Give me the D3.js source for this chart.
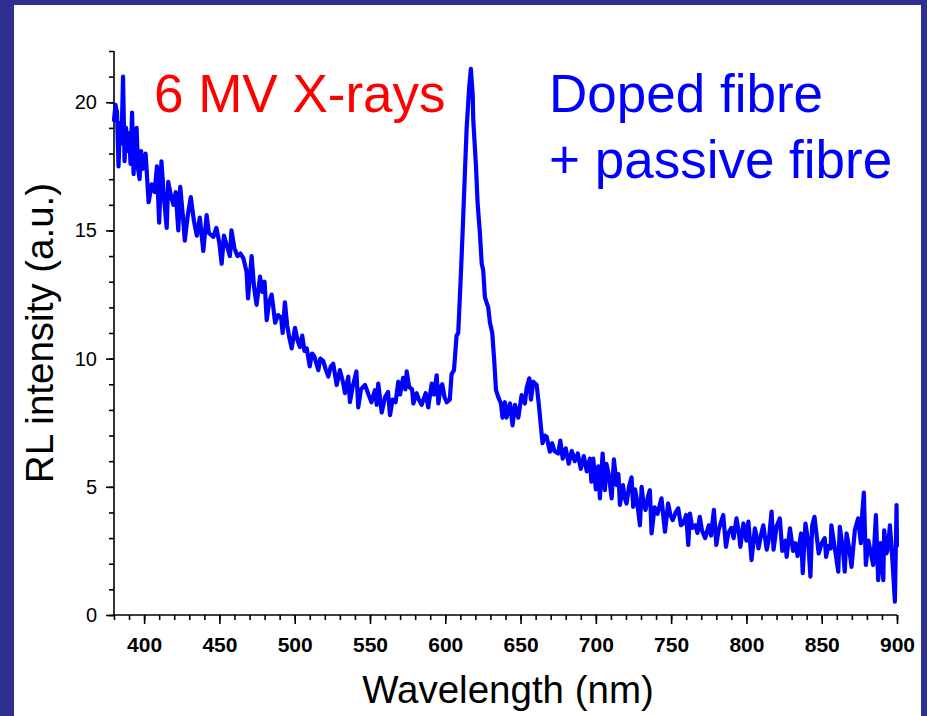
<!DOCTYPE html>
<html>
<head>
<meta charset="utf-8">
<script src="https://cdn.jsdelivr.net/npm/d3@7"></script>
<style>
  html, body { margin: 0; padding: 0; background: #2e3192; }
  svg { display: block; }
  text { font-family: "Liberation Sans", Arial, sans-serif; }
</style>
</head>
<body>
<svg id="chart" width="927" height="716"></svg>
<script>
// Radioluminescence spectrum: wavelength (nm) and intensity (a.u.)
const wavelengths = [
  380,381,382,383,384,385,386,387,388,389,390,391,392,393,394,395,396,397,398,399,
  401,403,405,407,408.5,410,411.5,413,415,416,418,419.5,421,422.7,424,426,427,429,431,433,
  435,437,439.3,441.5,443,446,448,450,451.5,453,455,457,458,460,462,464,466,468,469,471.4,
  473,474.7,477,478.5,480,481.4,483,484.7,486,487,489,491,492,493.5,495,496.5,498,500.2,502,503.5,
  505,506.5,508,510,511.5,513,515.7,517,519,520.5,522.3,524,525.6,527.9,530,532,533.4,535.6,536.7,538.5,
  541,542.2,544,546.7,549,551,553.3,554.5,555.5,557.8,560,562,563.3,565,567,568.8,570,572,573.5,574.4,
  576,578,578.8,581,582.5,584.3,587,588.7,591,592.5,594.3,595.4,597,598,599.5,601,603,604.2,605.8,607.5,
  608.6,610.2,611.5,613,614.2,615.9,617,618.2,618.6,620.4,621.5,623,624.2,625.2,626.3,628.5,629.7,631.2,632.5,633.7,
  635.2,637,638,639.6,640.7,643,644.7,646.3,648.5,650.7,652.9,654,655.8,656.9,658.4,660.7,662.4,663.5,664.6,666,
  667.3,669.5,671,672.5,675,676.4,678,680,682,684,686,688,690,692,694,696,697,698.3,700,701.6,
  702.7,704.5,706,707,708.5,710.5,712,713.8,715,716,718,719,720.4,722,723.7,724.8,726,727,729.3,730.4,
  731.5,733,734.5,735.9,737,739,741,742.5,743.6,745.9,748,749.5,751,753,754.7,756.5,758,760,761.4,762.5,
  764,766,767.5,769,770.5,772.6,775,776.5,778.4,780,781.5,783,784.6,786.4,788,790,791.5,793.4,795,796,
  798,800,801.3,803.4,805.6,807,808,810,811.2,813.5,815,816.7,818,820,822.2,823.8,826,826.7,828.9,831,
  832.5,834,836.3,837.4,839.2,841,842.5,843.7,845.2,848,850,852,852.9,854.5,856,856.4,859,861,862,864,
  865.3,866.5,868,869.8,872,874.2,876,877,878,879.3,881,882,884.2,886,887.5,889,890.9,891.5,893,894,
  895.3,897,898.6,899.7,900
];
const intensity = [
  19.3,19.9,19.6,17.5,19.2,18.4,21.0,17.7,19.0,18.1,18.8,17.6,19.6,17.2,18.4,19.0,17.4,17.0,18.1,17.4,
  18.0,16.1,16.8,16.5,17.5,15.3,17.7,16.4,15.1,16.9,16.3,16.0,16.5,15.0,16.7,15.4,14.6,15.6,16.3,15.4,
  14.8,15.5,14.2,15.6,14.9,14.75,15.1,14.5,13.7,14.8,14.4,14.0,15.0,14.3,14.0,14.1,13.9,13.4,12.35,14.0,
  12.8,12.1,13.2,12.6,13.0,11.5,12.2,12.5,11.9,11.4,11.7,11.6,11.0,12.2,11.3,10.8,10.4,11.2,10.7,10.45,
  10.9,10.3,10.4,9.7,10.2,10.1,9.55,10.0,9.9,9.6,9.3,9.7,9.8,8.97,9.55,9.1,8.65,9.3,8.3,8.9,
  9.5,8.1,8.8,8.97,8.6,8.3,8.77,8.2,9.03,7.9,8.5,8.7,7.8,8.4,8.3,9.1,8.6,9.25,8.8,9.5,
  8.9,8.8,8.25,8.65,8.4,8.2,8.65,8.1,9.03,8.6,9.35,8.25,8.9,9.0,8.5,8.3,8.4,9.4,9.55,10.9,
  11.0,13.06,14.9,17.2,19.0,20.6,21.3,20.3,19.3,17.5,16.05,14.9,13.7,13.45,12.4,12.0,11.4,11.0,9.94,8.77,
  8.5,8.25,7.7,8.3,7.7,8.25,7.4,8.2,7.7,8.58,8.25,8.84,9.23,8.4,9.1,8.97,8.06,7.35,6.7,7.0,
  6.95,6.37,6.7,6.4,6.3,6.8,6.1,6.5,5.9,6.4,6.0,6.3,5.7,6.2,5.6,6.1,5.2,6.1,4.9,5.8,
  4.55,6.3,4.87,5.9,5.5,4.55,6.07,5.07,5.5,4.29,5.07,4.6,4.35,5.0,5.37,4.22,4.9,4.6,3.5,5.0,
  4.4,4.1,4.6,4.87,3.18,4.2,3.95,4.3,4.55,3.25,4.35,3.9,3.7,4.0,4.16,3.5,3.57,3.9,2.73,3.96,
  3.4,3.5,3.2,3.83,3.3,3.0,3.5,3.1,4.1,2.73,3.3,3.6,3.9,2.66,3.2,3.4,3.0,3.77,3.2,2.66,
  3.57,2.9,3.64,2.14,3.38,3.0,2.6,3.2,3.5,2.55,3.0,4.03,2.55,3.45,3.77,2.5,2.9,2.27,3.38,2.5,
  2.8,2.3,3.18,1.63,3.57,2.9,1.5,3.5,3.83,2.4,2.8,3.0,2.27,2.7,2.6,3.5,2.5,1.69,3.44,2.6,
  1.69,3.18,2.7,1.88,3.3,3.77,2.8,4.03,4.77,1.95,2.9,2.6,1.95,3.9,1.36,2.8,1.36,3.3,2.4,2.6,
  3.5,2.1,0.52,4.29,2.7
];

const xMajorTicks = [400, 450, 500, 550, 600, 650, 700, 750, 800, 850, 900];
const yMajorTicks = [0, 5, 10, 15, 20];

const svg = d3.select("#chart");
const W = 927, H = 716;

// Dark frame with white panel
svg.append("rect").attr("width", W).attr("height", H).attr("fill", "#2e3192");
svg.append("rect").attr("x", 14).attr("y", 5).attr("width", 907).attr("height", H - 5).attr("fill", "#ffffff");

const x = d3.scaleLinear().domain([380, 900]).range([114, 897]);
const y = d3.scaleLinear().domain([0, 22]).range([615, 51]);

// Minor ticks (every 10 nm / every 1 unit)
const xMinor = d3.range(380, 901, 10);
const yMinor = d3.range(0, 23, 1);

const xMinorAxis = svg.append("g").attr("transform", `translate(0,${y(0)})`)
  .call(d3.axisBottom(x).tickValues(xMinor).tickSize(5).tickFormat(""));
const yMinorAxis = svg.append("g").attr("transform", `translate(${x(380)},0)`)
  .call(d3.axisLeft(y).tickValues(yMinor).tickSize(5).tickFormat(""));

const xAxis = svg.append("g").attr("transform", `translate(0,${y(0)})`)
  .call(d3.axisBottom(x).tickValues(xMajorTicks).tickSize(9).tickPadding(13).tickFormat(d3.format("d")));
const yAxis = svg.append("g").attr("transform", `translate(${x(380)},0)`)
  .call(d3.axisLeft(y).tickValues(yMajorTicks).tickSize(8).tickPadding(9).tickFormat(d3.format("d")));

[xMinorAxis, yMinorAxis, xAxis, yAxis].forEach(g => {
  g.select(".domain").attr("stroke", "#000").attr("stroke-width", 1.6);
  g.selectAll(".tick line").attr("stroke", "#000").attr("stroke-width", 1.6);
});
xMinorAxis.select(".domain").attr("d", `M${x(380)},0H${x(900)}`);
yMinorAxis.select(".domain").attr("d", `M0,${y(22)}V${y(0)}`);
xAxis.select(".domain").remove();
yAxis.select(".domain").remove();

xAxis.selectAll(".tick text")
  .attr("fill", "#000").attr("font-size", 21).attr("font-weight", "bold")
  .style("font-family", "'Liberation Sans', Arial, sans-serif");
yAxis.selectAll(".tick text")
  .attr("fill", "#000").attr("font-size", 20)
  .style("font-family", "'Liberation Sans', Arial, sans-serif");

// Spectrum line
const points = wavelengths.map((w, i) => [w, intensity[i]]);
svg.append("path")
  .datum(points)
  .attr("fill", "none")
  .attr("stroke", "#0000ff")
  .attr("stroke-width", 4.2)
  .attr("stroke-linejoin", "round")
  .attr("stroke-linecap", "round")
  .attr("d", d3.line().x(d => x(d[0])).y(d => y(d[1])));

// Axis titles
svg.append("text")
  .attr("x", 508).attr("y", 703)
  .attr("text-anchor", "middle")
  .attr("font-size", 38.5)
  .attr("fill", "#000")
  .text("Wavelength (nm)");

svg.append("text")
  .attr("transform", "translate(53,333) rotate(-90)")
  .attr("text-anchor", "middle")
  .attr("font-size", 38.5)
  .attr("fill", "#000")
  .text("RL intensity (a.u.)");

// Annotations
svg.append("text")
  .attr("x", 154).attr("y", 112)
  .attr("font-size", 53)
  .attr("fill", "#ff0000")
  .text("6 MV X-rays");

svg.append("text")
  .attr("x", 549).attr("y", 112)
  .attr("font-size", 53)
  .attr("fill", "#0000ff")
  .text("Doped fibre");

svg.append("text")
  .attr("x", 549).attr("y", 178)
  .attr("font-size", 53)
  .attr("fill", "#0000ff")
  .text("+ passive fibre");
</script>
</body>
</html>
